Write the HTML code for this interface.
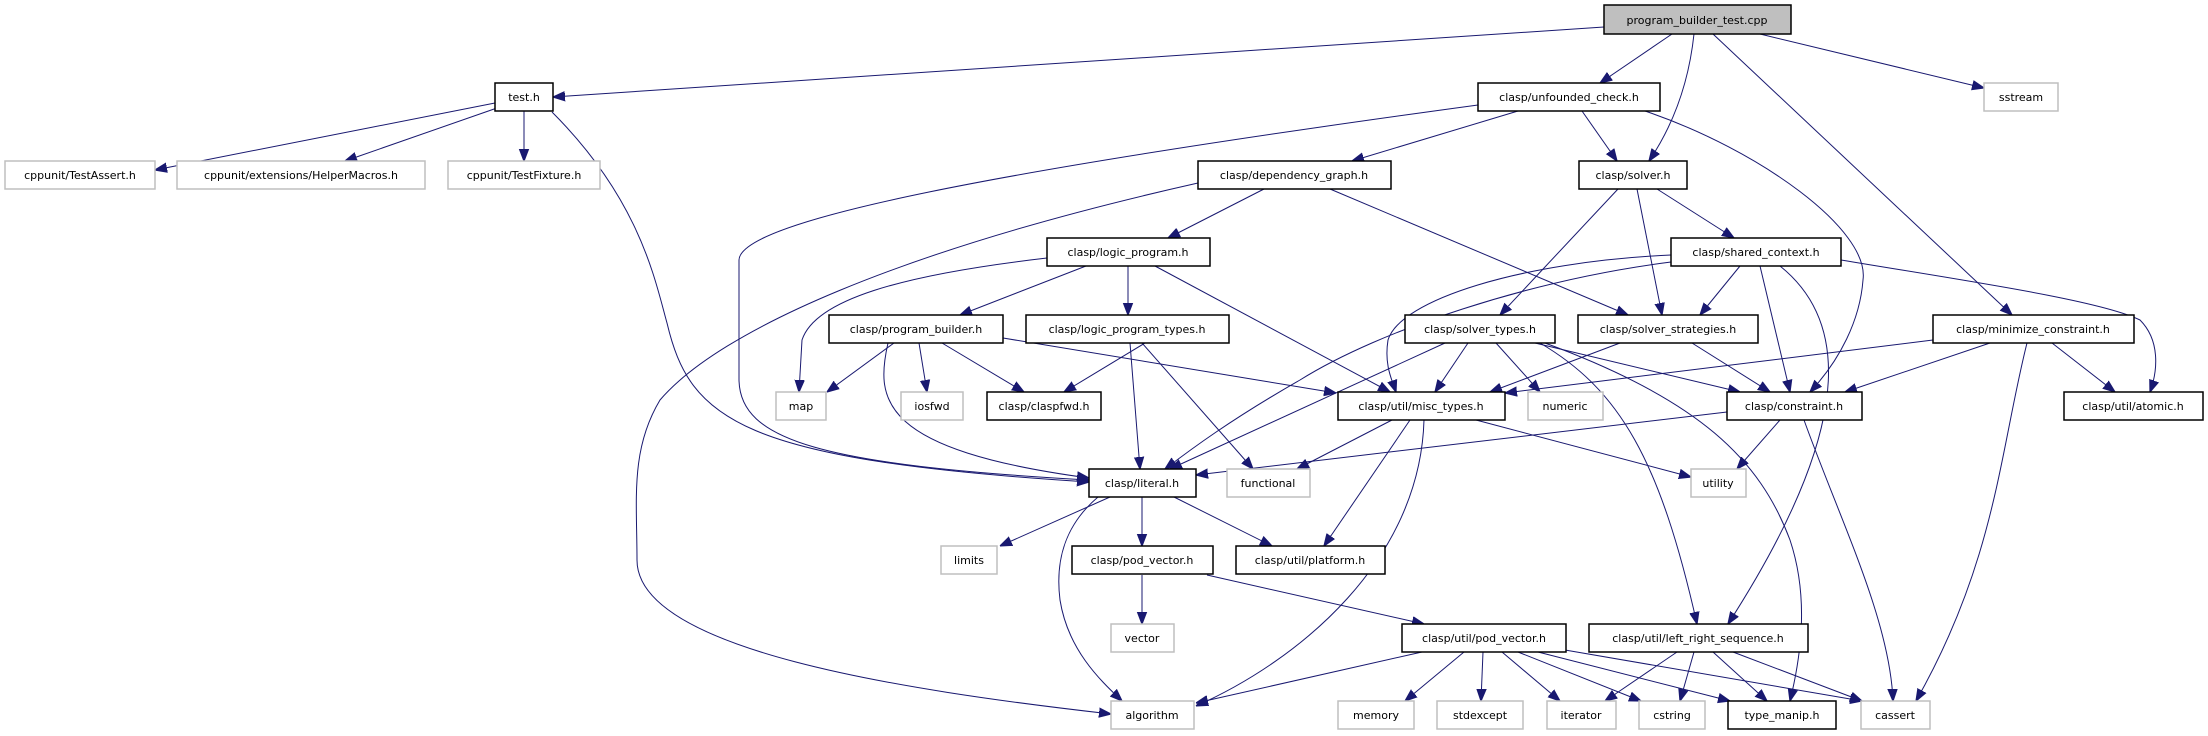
<!DOCTYPE html>
<html><head><meta charset="utf-8"><style>
html,body{margin:0;padding:0;background:#fff;}
svg{display:block;}
text{font-family:"DejaVu Sans","Liberation Sans",sans-serif;font-size:11px;fill:#000;}
</style></head><body>
<svg width="2208" height="736" viewBox="0 0 2208 736" xmlns="http://www.w3.org/2000/svg">
<defs>
<marker id="a" viewBox="0 0 10 10" refX="10" refY="5" markerWidth="12" markerHeight="12" markerUnits="userSpaceOnUse" orient="auto">
<path d="M0,1.2 L10,5 L0,8.8 z" fill="#191970" stroke="#191970"/>
</marker>
</defs>
<g fill="none" stroke="#191970" stroke-width="1" marker-end="url(#a)">
<path d="M1604,27 L553,97"/>
<path d="M1672,34 L1600,83"/>
<path d="M1694,34 C1688,90 1670,130 1649,161"/>
<path d="M1713,34 L2012,315"/>
<path d="M1760,34 L1984,88"/>
<path d="M495,103 L155,170"/>
<path d="M497,108 L345,161"/>
<path d="M524,111 L524,161"/>
<path d="M552,112 C640,200 655,280 667,323 C690,420 740,460 1089,482"/>
<path d="M1478,105 C1000,170 740,220 739,260 L739,380 C740,440 820,465 1089,480"/>
<path d="M1518,111 L1352,161"/>
<path d="M1582,111 L1617,161"/>
<path d="M1645,111 C1760,150 1870,230 1863,280 C1860,320 1840,360 1810,392"/>
<path d="M1198,183 C900,250 720,330 660,400 C630,450 637,500 637,560 C637,650 900,690 1111,714"/>
<path d="M1264,189 L1168,238"/>
<path d="M1330,189 L1628,315"/>
<path d="M1618,189 L1500,315"/>
<path d="M1637,189 L1662,315"/>
<path d="M1657,189 L1734,238"/>
<path d="M1047,258 C900,275 815,300 802,340 L799,392"/>
<path d="M1086,266 L960,315"/>
<path d="M1128,266 L1128,315"/>
<path d="M1155,266 L1390,392"/>
<path d="M1145,343 L1064,392"/>
<path d="M1130,343 L1140,469"/>
<path d="M1142,343 L1253,469"/>
<path d="M894,343 L827,392"/>
<path d="M919,343 L927,392"/>
<path d="M942,343 L1024,392"/>
<path d="M1003,338 L1336,393"/>
<path d="M888,343 C875,400 880,450 1089,478"/>
<path d="M1445,343 L1170,469"/>
<path d="M1468,343 L1435,392"/>
<path d="M1496,343 L1540,392"/>
<path d="M1535,343 L1740,392"/>
<path d="M1540,343 C1620,390 1660,460 1697,624"/>
<path d="M1545,343 C1700,400 1760,460 1790,540 C1810,600 1800,660 1790,701"/>
<path d="M1620,343 L1490,392"/>
<path d="M1692,343 L1770,392"/>
<path d="M1671,262 C1530,280 1380,330 1300,380 C1230,420 1190,450 1165,469"/>
<path d="M1671,255 C1520,262 1400,300 1388,340 C1384,365 1392,380 1396,392"/>
<path d="M1740,266 L1700,315"/>
<path d="M1760,266 L1790,392"/>
<path d="M1780,266 C1860,330 1840,450 1728,624"/>
<path d="M1841,260 C1960,280 2100,300 2140,320 C2160,340 2158,370 2150,392"/>
<path d="M1933,340 L1505,393"/>
<path d="M1990,343 L1845,392"/>
<path d="M2052,343 L2115,392"/>
<path d="M2027,343 C2000,450 1996,560 1916,701"/>
<path d="M1392,420 L1297,469"/>
<path d="M1410,420 L1324,546"/>
<path d="M1476,420 L1691,477"/>
<path d="M1424,420 C1420,560 1300,660 1196,706"/>
<path d="M1727,412 L1196,475"/>
<path d="M1780,420 L1737,469"/>
<path d="M1804,420 C1840,520 1890,620 1893,701"/>
<path d="M1110,497 L1000,546"/>
<path d="M1142,497 L1142,546"/>
<path d="M1174,497 L1272,546"/>
<path d="M1098,497 C1065,525 1055,560 1060,600 C1068,650 1100,680 1122,701"/>
<path d="M1142,575 L1142,624"/>
<path d="M1207,575 L1424,624"/>
<path d="M1422,652 L1196,703"/>
<path d="M1464,652 L1405,701"/>
<path d="M1483,652 L1481,701"/>
<path d="M1502,652 L1560,701"/>
<path d="M1518,652 L1641,701"/>
<path d="M1538,652 L1730,701"/>
<path d="M1565,650 L1862,701"/>
<path d="M1677,652 L1605,701"/>
<path d="M1694,652 L1680,701"/>
<path d="M1713,652 L1767,701"/>
<path d="M1733,652 L1862,701"/>
</g>
<g stroke-width="1.5">
<g fill="#fff" stroke="#000">
<rect x="495" y="83" width="58" height="28"/>
<rect x="1478" y="83" width="182" height="28"/>
<rect x="1198" y="161" width="193" height="28"/>
<rect x="1579" y="161" width="108" height="28"/>
<rect x="1047" y="238" width="163" height="28"/>
<rect x="1671" y="238" width="170" height="28"/>
<rect x="829" y="315" width="174" height="28"/>
<rect x="1026" y="315" width="203" height="28"/>
<rect x="1405" y="315" width="150" height="28"/>
<rect x="1578" y="315" width="180" height="28"/>
<rect x="1933" y="315" width="201" height="28"/>
<rect x="987" y="392" width="114" height="28"/>
<rect x="1338" y="392" width="167" height="28"/>
<rect x="1727" y="392" width="135" height="28"/>
<rect x="2064" y="392" width="139" height="28"/>
<rect x="1089" y="469" width="107" height="28"/>
<rect x="1072" y="546" width="141" height="28"/>
<rect x="1236" y="546" width="149" height="28"/>
<rect x="1402" y="624" width="164" height="28"/>
<rect x="1589" y="624" width="219" height="28"/>
<rect x="1728" y="701" width="108" height="28"/>
</g>
<rect x="1604" y="5" width="187" height="29" fill="#bfbfbf" stroke="#000"/>
<g fill="#fff" stroke="#bfbfbf">
<rect x="5" y="161" width="150" height="28"/>
<rect x="177" y="161" width="248" height="28"/>
<rect x="448" y="161" width="152" height="28"/>
<rect x="1984" y="83" width="74" height="28"/>
<rect x="776" y="392" width="50" height="28"/>
<rect x="901" y="392" width="62" height="28"/>
<rect x="1528" y="392" width="75" height="28"/>
<rect x="1227" y="469" width="83" height="28"/>
<rect x="1691" y="469" width="55" height="28"/>
<rect x="941" y="546" width="56" height="28"/>
<rect x="1111" y="624" width="63" height="28"/>
<rect x="1111" y="701" width="83" height="28"/>
<rect x="1338" y="701" width="76" height="28"/>
<rect x="1437" y="701" width="86" height="28"/>
<rect x="1547" y="701" width="69" height="28"/>
<rect x="1639" y="701" width="66" height="28"/>
<rect x="1861" y="701" width="69" height="28"/>
</g>
</g>
<g text-anchor="middle">
<text x="1697" y="24">program_builder_test.cpp</text>
<text x="524" y="101">test.h</text>
<text x="1569" y="101">clasp/unfounded_check.h</text>
<text x="2021" y="101">sstream</text>
<text x="80" y="179">cppunit/TestAssert.h</text>
<text x="301" y="179">cppunit/extensions/HelperMacros.h</text>
<text x="524" y="179">cppunit/TestFixture.h</text>
<text x="1294" y="179">clasp/dependency_graph.h</text>
<text x="1633" y="179">clasp/solver.h</text>
<text x="1128" y="256">clasp/logic_program.h</text>
<text x="1756" y="256">clasp/shared_context.h</text>
<text x="916" y="333">clasp/program_builder.h</text>
<text x="1127" y="333">clasp/logic_program_types.h</text>
<text x="1480" y="333">clasp/solver_types.h</text>
<text x="1668" y="333">clasp/solver_strategies.h</text>
<text x="2033" y="333">clasp/minimize_constraint.h</text>
<text x="801" y="410">map</text>
<text x="932" y="410">iosfwd</text>
<text x="1044" y="410">clasp/claspfwd.h</text>
<text x="1421" y="410">clasp/util/misc_types.h</text>
<text x="1565" y="410">numeric</text>
<text x="1794" y="410">clasp/constraint.h</text>
<text x="2133" y="410">clasp/util/atomic.h</text>
<text x="1142" y="487">clasp/literal.h</text>
<text x="1268" y="487">functional</text>
<text x="1718" y="487">utility</text>
<text x="969" y="564">limits</text>
<text x="1142" y="564">clasp/pod_vector.h</text>
<text x="1310" y="564">clasp/util/platform.h</text>
<text x="1142" y="642">vector</text>
<text x="1484" y="642">clasp/util/pod_vector.h</text>
<text x="1698" y="642">clasp/util/left_right_sequence.h</text>
<text x="1152" y="719">algorithm</text>
<text x="1376" y="719">memory</text>
<text x="1480" y="719">stdexcept</text>
<text x="1581" y="719">iterator</text>
<text x="1672" y="719">cstring</text>
<text x="1782" y="719">type_manip.h</text>
<text x="1895" y="719">cassert</text>
</g>
</svg>
</body></html>
